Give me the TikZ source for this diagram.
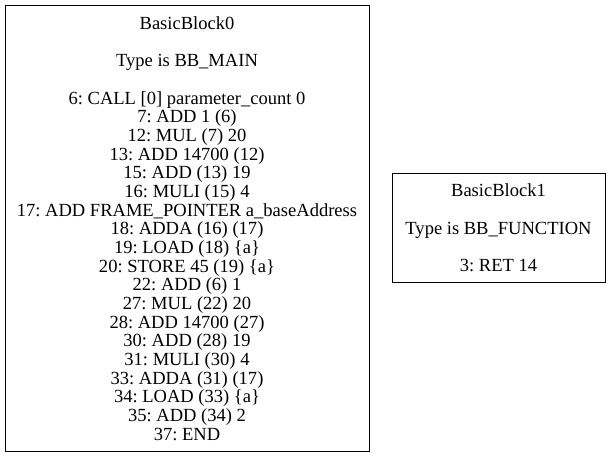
\documentclass[tikz,border=0pt]{standalone}
\usepackage{fontspec}
\setmainfont{Liberation Serif}
\usetikzlibrary{positioning}
\tikzset{
  block/.style={draw=black, line width=0.75pt, align=center, inner sep=0pt,
    font=\fontsize{13.9}{14}\selectfont\frenchspacing}
}
\begin{document}
\begin{tikzpicture}[x=0.75pt, y=-0.75pt]
  \useasboundingbox (0,0) rectangle (611,456);
  % main block
  \node[block, minimum width=273pt, minimum height=334.5pt] (bb0) at (187,228.5) {
    BasicBlock0\\[14pt]
    Type is BB\_MAIN\\[14pt]
    6: CALL [0] parameter\_count 0\\
    7: ADD 1 (6)\\
    12: MUL (7) 20\\
    13: ADD 14700 (12)\\
    15: ADD (13) 19\\
    16: MULI (15) 4\\
    17: ADD FRAME\_POINTER a\_baseAddress\\
    18: ADDA (16) (17)\\
    19: LOAD (18) \{a\}\\
    20: STORE 45 (19) \{a\}\\
    22: ADD (6) 1\\
    27: MUL (22) 20\\
    28: ADD 14700 (27)\\
    30: ADD (28) 19\\
    31: MULI (30) 4\\
    33: ADDA (31) (17)\\
    34: LOAD (33) \{a\}\\
    35: ADD (34) 2\\
    37: END};
  % function block
  \node[block, minimum width=159.75pt, minimum height=81.75pt] (bb1) at (498.5,228) {
    BasicBlock1\\[14pt]
    Type is BB\_FUNCTION\\[14pt]
    3: RET 14};
\end{tikzpicture}
\end{document}
